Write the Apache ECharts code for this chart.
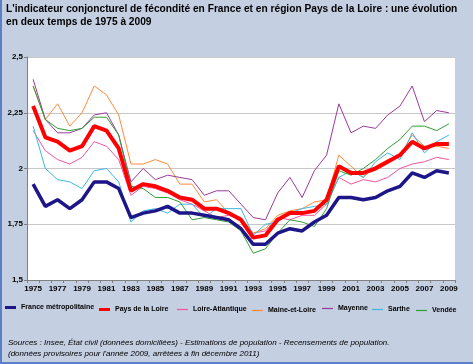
<!DOCTYPE html>
<html><head><meta charset="utf-8">
<script src="https://cdn.jsdelivr.net/npm/echarts@6/dist/echarts.min.js"></script>
<style>
html,body{margin:0;padding:0;background:#c4cfe2;}
#c{width:473px;height:364px;box-sizing:border-box;border-left:2px solid #5b80c8;border-bottom:2px solid #5b80c8;}
</style></head><body>
<div id="c"></div>
<script>
const years = [];
for (let y = 1975; y <= 2009; y++) years.push(String(y));
const france = [1.93,1.83,1.86,1.82,1.86,1.94,1.94,1.91,1.78,1.80,1.81,1.83,1.80,1.80,1.79,1.78,1.77,1.73,1.66,1.66,1.71,1.73,1.72,1.76,1.79,1.87,1.87,1.86,1.87,1.90,1.92,1.98,1.96,1.99,1.98];
const paysLoire = [2.28,2.14,2.12,2.08,2.10,2.19,2.17,2.09,1.90,1.93,1.92,1.90,1.87,1.86,1.82,1.82,1.80,1.77,1.69,1.70,1.77,1.80,1.80,1.81,1.86,2.01,1.98,1.98,2.00,2.03,2.06,2.12,2.09,2.11,2.11];
const loireAtl = [2.17,2.08,2.04,2.02,2.05,2.12,2.10,2.04,1.88,1.92,1.91,1.89,1.86,1.84,1.81,1.78,1.79,1.77,1.71,1.72,1.78,1.77,1.79,1.79,1.84,1.96,1.93,1.95,1.94,1.96,2.00,2.02,2.03,2.05,2.04];
const maineLoire = [2.37,2.22,2.29,2.19,2.25,2.37,2.33,2.24,2.02,2.02,2.04,2.02,1.93,1.93,1.85,1.86,1.80,1.78,1.71,1.73,1.79,1.81,1.82,1.85,1.86,2.06,2.01,1.96,2.01,2.04,2.06,2.15,2.10,2.10,2.09];
const mayenne = [2.40,2.22,2.16,2.16,2.18,2.24,2.25,2.15,1.94,2.00,1.95,1.97,1.96,1.95,1.88,1.90,1.90,1.84,1.78,1.77,1.89,1.96,1.87,1.99,2.06,2.29,2.16,2.19,2.18,2.24,2.28,2.37,2.21,2.26,2.25];
const sarthe = [2.19,2.00,1.95,1.94,1.91,1.99,2.00,1.94,1.76,1.81,1.82,1.80,1.84,1.84,1.78,1.82,1.82,1.82,1.70,1.75,1.76,1.80,1.82,1.83,1.84,1.96,1.99,1.96,2.03,2.07,2.04,2.16,2.07,2.12,2.15];
const vendee = [2.37,2.22,2.18,2.17,2.18,2.23,2.23,2.15,1.92,1.91,1.87,1.87,1.85,1.77,1.78,1.77,1.76,1.72,1.62,1.64,1.71,1.77,1.76,1.74,1.82,1.99,1.97,2.00,2.04,2.09,2.13,2.19,2.19,2.17,2.20];
const yTicks = ['1,5','1,75','2','2,25','2,5'];

const series = [
  {name:'Loire-Atlantique', data:loireAtl, color:'#f2559e', w:1, z:2},
  {name:'Maine-et-Loire', data:maineLoire, color:'#ff8a3c', w:1, z:2},
  {name:'Mayenne', data:mayenne, color:'#9c3a9c', w:1, z:2},
  {name:'Sarthe', data:sarthe, color:'#3cb8e0', w:1, z:2},
  {name:'Vendée', data:vendee, color:'#2f9f35', w:1, z:2},
  {name:'Pays de la Loire', data:paysLoire, color:'#ff0000', w:4, z:3},
  {name:'France métropolitaine', data:france, color:'#1e1588', w:3.5, z:4}
];

const legendPos = {
  'France métropolitaine':[3,304],
  'Pays de la Loire':[97,306],
  'Loire-Atlantique':[175,306],
  'Maine-et-Loire':[250,307],
  'Mayenne':[320,305],
  'Sarthe':[370,306],
  'Vendée':[414,307]
};

const chart = echarts.init(document.getElementById('c'), null, {renderer:'canvas'});
chart.setOption({
  animation:false,
  backgroundColor:'#c4cfe2',
  title:[{
    text:"L'indicateur conjoncturel de fécondité en France et en région Pays de la Loire : une évolution\nen deux temps de 1975 à 2009",
    left:4, top:3, padding:0,
    textStyle:{fontFamily:'Liberation Sans, Arial',fontSize:10.2,fontWeight:'bold',color:'#000',lineHeight:13}
  },{
    text:"Sources : Insee, État civil (données domiciliées) - Estimations de population - Recensements de population.\n(données provisoires pour l'année 2009, arrêtées à fin décembre 2011)",
    left:6, top:337, padding:0,
    textStyle:{fontFamily:'Liberation Sans, Arial',fontSize:8,fontWeight:'normal',fontStyle:'italic',color:'#000',lineHeight:11}
  }],
  legend: series.map(s=>({
    data:[s.name], left:legendPos[s.name][0], top:legendPos[s.name][1], padding:0,
    icon:'rect', itemWidth:11, itemHeight: s.w>2?3:1.2, itemGap:4,
    textStyle:{fontFamily:'Liberation Sans, Arial',fontSize:7,fontWeight:'bold',color:'#000'}
  })),
  grid:{left:25,right:18,top:57,bottom:82,show:true,backgroundColor:'#ffffff',borderWidth:0},
  xAxis:{type:'category',data:years,boundaryGap:true,
    axisLine:{lineStyle:{color:'#808080',width:1}},
    axisTick:{show:true,interval:0,length:3,lineStyle:{color:'#808080'}},
    axisLabel:{interval:1,fontFamily:'Liberation Sans, Arial',fontSize:8,fontWeight:'bold',color:'#000',margin:5}
  },
  yAxis:{type:'value',min:1.5,max:2.5,interval:0.25,
    axisLine:{show:true,lineStyle:{color:'#808080'}},
    axisTick:{show:true,length:3,lineStyle:{color:'#808080'}},
    splitLine:{lineStyle:{color:'#c8c8c8',width:1}},
    axisLabel:{fontFamily:'Liberation Sans, Arial',fontSize:8,fontWeight:'bold',color:'#000',margin:4,
      formatter:(v)=>yTicks[Math.round((v-1.5)/0.25)]}
  },
  series: series.map(s=>({
    name:s.name,type:'line',data:s.data,symbol:'none',z:s.z,
    lineStyle:{color:s.color,width:s.w},itemStyle:{color:s.color}
  }))
});
</script></body></html>
